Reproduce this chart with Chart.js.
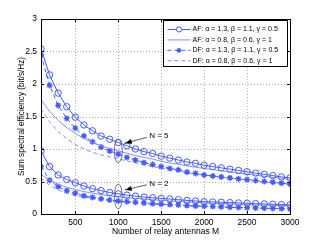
<!DOCTYPE html>
<html>
<head>
<meta charset="utf-8">
<script src="https://cdn.jsdelivr.net/npm/chart.js@4.4.1/dist/chart.umd.min.js"></script>
<style>
    html, body { margin: 0; padding: 0; background: #fff; }
    #wrap { width: 321px; height: 242px; }
</style>
</head>
<body>
<div id="wrap"><canvas id="effChart" width="321" height="242"></canvas></div>
<script>
// number of relay antennas M
const antennas = [100, 200, 300, 400, 500, 600, 700, 800, 900, 1000,
    1100, 1200, 1300, 1400, 1500, 1600, 1700, 1800, 1900, 2000,
    2100, 2200, 2300, 2400, 2500, 2600, 2700, 2800, 2900, 3000];

// N = 5
const af13N5 = [2.54, 2.14, 1.86, 1.65, 1.49, 1.37, 1.28, 1.20, 1.15, 1.10,
    1.05, 1.00, 0.96, 0.93, 0.89, 0.86, 0.83, 0.80, 0.78, 0.75,
    0.73, 0.71, 0.69, 0.67, 0.65, 0.63, 0.61, 0.59, 0.57, 0.555];
const af08N5 = [1.76, 1.58, 1.44, 1.33, 1.24, 1.16, 1.10, 1.05, 1.01, 0.97,
    0.935, 0.90, 0.87, 0.845, 0.81, 0.785, 0.765, 0.74, 0.72, 0.70,
    0.685, 0.665, 0.65, 0.63, 0.615, 0.60, 0.58, 0.565, 0.55, 0.535];
const df13N5 = [2.45, 1.98, 1.67, 1.47, 1.32, 1.20, 1.11, 1.03, 0.97, 0.92,
    0.87, 0.83, 0.79, 0.76, 0.73, 0.70, 0.68, 0.645, 0.625, 0.60,
    0.585, 0.57, 0.555, 0.54, 0.53, 0.515, 0.50, 0.49, 0.475, 0.46];
const df08N5 = [1.62, 1.42, 1.27, 1.16, 1.07, 1.00, 0.95, 0.91, 0.88, 0.85,
    0.815, 0.785, 0.76, 0.73, 0.705, 0.68, 0.66, 0.635, 0.615, 0.595,
    0.58, 0.565, 0.55, 0.535, 0.52, 0.505, 0.49, 0.48, 0.465, 0.45];

// N = 2
const af13N2 = [0.97, 0.73, 0.60, 0.53, 0.48, 0.43, 0.39, 0.36, 0.33, 0.31,
    0.29, 0.275, 0.26, 0.25, 0.24, 0.23, 0.22, 0.21, 0.20, 0.19,
    0.185, 0.18, 0.175, 0.17, 0.165, 0.16, 0.155, 0.15, 0.145, 0.14];
const af08N2 = [0.61, 0.52, 0.46, 0.41, 0.375, 0.345, 0.32, 0.30, 0.28, 0.265,
    0.25, 0.24, 0.23, 0.22, 0.21, 0.20, 0.195, 0.185, 0.18, 0.17,
    0.165, 0.16, 0.155, 0.15, 0.145, 0.14, 0.137, 0.133, 0.13, 0.125];
const df13N2 = [0.73, 0.52, 0.42, 0.36, 0.32, 0.28, 0.255, 0.235, 0.215, 0.20,
    0.19, 0.18, 0.17, 0.16, 0.15, 0.145, 0.14, 0.13, 0.125, 0.12,
    0.115, 0.11, 0.105, 0.10, 0.097, 0.093, 0.09, 0.086, 0.083, 0.08];
const df08N2 = [0.55, 0.44, 0.37, 0.32, 0.285, 0.26, 0.24, 0.22, 0.205, 0.19,
    0.18, 0.17, 0.16, 0.152, 0.145, 0.138, 0.132, 0.126, 0.12, 0.115,
    0.11, 0.105, 0.10, 0.097, 0.093, 0.09, 0.087, 0.084, 0.081, 0.078];

const legendLabels = [
    'AF: \u03b1 = 1.3, \u03b2 = 1.1, \u03b3 = 0.5',
    'AF: \u03b1 = 0.8, \u03b2 = 0.6, \u03b3 = 1',
    'DF: \u03b1 = 1.3, \u03b2 = 1.1, \u03b3 = 0.5',
    'DF: \u03b1 = 0.8, \u03b2 = 0.6, \u03b3 = 1'
];
const xTicks = [500, 1000, 1500, 2000, 2500, 3000];
const yTicks = [0, 0.5, 1, 1.5, 2, 2.5, 3];

const blue = 'rgb(70, 90, 255)';
const lightBlue = 'rgb(125, 145, 255)';
const font = 'Liberation Sans, Arial, sans-serif';

const toPoints = (ys) => antennas.map((m, i) => ({ x: m, y: ys[i] }));

const styles = {
    af13: { borderColor: blue, borderWidth: 1, pointStyle: 'circle', pointRadius: 3.2, pointBorderColor: blue, pointBackgroundColor: 'rgba(0,0,0,0)', pointBorderWidth: 1 },
    af08: { borderColor: lightBlue, borderWidth: 1, pointRadius: 0 },
    df13: { borderColor: blue, borderWidth: 1, borderDash: [4, 3], pointStyle: 'star', pointRadius: 3, pointBorderColor: blue, pointBorderWidth: 1.3 },
    df08: { borderColor: lightBlue, borderWidth: 1, borderDash: [4, 3], pointRadius: 0 }
};

const datasets = [
    Object.assign({ label: legendLabels[0], data: toPoints(af13N5) }, styles.af13),
    Object.assign({ label: legendLabels[1], data: toPoints(af08N5) }, styles.af08),
    Object.assign({ label: legendLabels[2], data: toPoints(df13N5) }, styles.df13),
    Object.assign({ label: legendLabels[3], data: toPoints(df08N5) }, styles.df08),
    Object.assign({ label: legendLabels[0], data: toPoints(af13N2) }, styles.af13),
    Object.assign({ label: legendLabels[1], data: toPoints(af08N2) }, styles.af08),
    Object.assign({ label: legendLabels[2], data: toPoints(df13N2) }, styles.df13),
    Object.assign({ label: legendLabels[3], data: toPoints(df08N2) }, styles.df08)
];

// ellipses + arrows marking the N = 5 and N = 2 groups (data units)
const groupNotes = [
    { text: 'N = 5', cx: 1000, cy: 0.97, ry: 0.18, tail: [1333, 1.18], head: [1080, 1.09], label: [1360, 1.20] },
    { text: 'N = 2', cx: 1000, cy: 0.27, ry: 0.19, tail: [1333, 0.45], head: [1080, 0.37], label: [1360, 0.46] }
];

const extras = {
    id: 'extras',
    beforeDatasetsDraw(chart) {
        // dotted grid
        const { ctx, chartArea: a, scales: { x, y } } = chart;
        ctx.save();
        ctx.strokeStyle = '#b0b0b0';
        ctx.lineWidth = 1;
        ctx.setLineDash([1, 2]);
        ctx.beginPath();
        xTicks.forEach(v => {
            const px = Math.round(x.getPixelForValue(v)) + 0.5;
            ctx.moveTo(px, a.top); ctx.lineTo(px, a.bottom);
        });
        yTicks.forEach(v => {
            const py = Math.round(y.getPixelForValue(v)) + 0.5;
            ctx.moveTo(a.left, py); ctx.lineTo(a.right, py);
        });
        ctx.stroke();
        ctx.restore();
    },
    afterDatasetsDraw(chart) {
        const { ctx, chartArea: a, scales: { x, y } } = chart;
        ctx.save();

        // frame
        ctx.strokeStyle = '#000';
        ctx.lineWidth = 1;
        ctx.strokeRect(Math.round(a.left) + 0.5, Math.round(a.top) + 0.5, Math.round(a.width), Math.round(a.height));

        // inward ticks
        ctx.beginPath();
        xTicks.forEach(v => {
            const px = Math.round(x.getPixelForValue(v)) + 0.5;
            ctx.moveTo(px, a.bottom); ctx.lineTo(px, a.bottom - 3);
            ctx.moveTo(px, a.top); ctx.lineTo(px, a.top + 3);
        });
        yTicks.forEach(v => {
            const py = Math.round(y.getPixelForValue(v)) + 0.5;
            ctx.moveTo(a.left, py); ctx.lineTo(a.left + 3, py);
            ctx.moveTo(a.right, py); ctx.lineTo(a.right - 3, py);
        });
        ctx.stroke();

        // group annotations
        groupNotes.forEach(n => {
            const cx = x.getPixelForValue(n.cx);
            const cy = y.getPixelForValue(n.cy);
            const ry = Math.abs(y.getPixelForValue(n.cy + n.ry) - cy);
            ctx.strokeStyle = '#555';
            ctx.lineWidth = 0.8;
            ctx.beginPath();
            ctx.ellipse(cx, cy, 4, ry, 0, 0, Math.PI * 2);
            ctx.stroke();

            const tx = x.getPixelForValue(n.tail[0]), ty = y.getPixelForValue(n.tail[1]);
            const hx = x.getPixelForValue(n.head[0]), hy = y.getPixelForValue(n.head[1]);
            ctx.strokeStyle = '#333';
            ctx.beginPath();
            ctx.moveTo(tx, ty); ctx.lineTo(hx, hy);
            ctx.stroke();
            const ang = Math.atan2(hy - ty, hx - tx);
            ctx.fillStyle = '#000';
            ctx.beginPath();
            ctx.moveTo(hx, hy);
            ctx.lineTo(hx - 7 * Math.cos(ang - 0.35), hy - 7 * Math.sin(ang - 0.35));
            ctx.lineTo(hx - 7 * Math.cos(ang + 0.35), hy - 7 * Math.sin(ang + 0.35));
            ctx.closePath();
            ctx.fill();

            ctx.font = '8px ' + font;
            ctx.textAlign = 'left';
            ctx.textBaseline = 'middle';
            ctx.fillText(n.text, x.getPixelForValue(n.label[0]), y.getPixelForValue(n.label[1]));
        });

        // legend box
        const bw = 124, bh = 46;
        const bx = Math.round(a.right - bw - 3) + 0.5, by = Math.round(a.top + 1) + 0.5;
        ctx.fillStyle = '#fff';
        ctx.fillRect(bx, by, bw, bh);
        ctx.strokeStyle = '#000';
        ctx.lineWidth = 1;
        ctx.strokeRect(bx, by, bw, bh);
        const keys = ['af13', 'af08', 'df13', 'df08'];
        keys.forEach((k, i) => {
            const s = styles[k];
            const ly = by + 9 + i * 10.4;
            ctx.strokeStyle = s.borderColor;
            ctx.lineWidth = 1;
            ctx.setLineDash(s.borderDash || []);
            ctx.beginPath();
            ctx.moveTo(bx + 4, ly); ctx.lineTo(bx + 27, ly);
            ctx.stroke();
            ctx.setLineDash([]);
            if (s.pointRadius) {
                ctx.strokeStyle = s.pointBorderColor;
                ctx.fillStyle = '#fff';
                ctx.lineWidth = s.pointBorderWidth;
                Chart.helpers.drawPoint(ctx, {
                    pointStyle: s.pointStyle, radius: s.pointRadius * 0.8,
                    borderWidth: s.pointBorderWidth, rotation: 0
                }, bx + 15.5, ly);
            }
            ctx.fillStyle = '#000';
            ctx.font = '7px ' + font;
            ctx.textAlign = 'left';
            ctx.textBaseline = 'middle';
            ctx.fillText(legendLabels[i], bx + 29, ly);
        });
        ctx.restore();
    }
};

const ctxEff = document.getElementById('effChart').getContext('2d');
window.effInstance = new Chart(ctxEff, {
    type: 'line',
    data: { datasets: datasets },
    options: {
        responsive: false,
        animation: false,
        layout: { padding: { left: 0, top: 19, right: 31, bottom: 0 } },
        plugins: { legend: { display: false }, tooltip: { enabled: false } },
        scales: {
            x: {
                type: 'linear',
                min: 100,
                max: 3000,
                afterBuildTicks: (s) => { s.ticks = xTicks.map(v => ({ value: v })); },
                afterFit: (s) => { s.height = 28; },
                grid: { display: false, drawTicks: false },
                border: { display: false },
                ticks: { color: '#000', font: { family: font, size: 8.5 }, padding: 4, maxRotation: 0, callback: (v) => String(v) },
                title: { display: true, text: 'Number of relay antennas M', color: '#000', font: { family: font, size: 8.5 }, padding: { top: 0, bottom: 5 } }
            },
            y: {
                min: 0,
                max: 3,
                afterBuildTicks: (s) => { s.ticks = yTicks.map(v => ({ value: v })); },
                afterFit: (s) => { s.width = 41; },
                grid: { display: false, drawTicks: false },
                border: { display: false },
                ticks: { color: '#000', font: { family: font, size: 8.5 }, padding: 4, callback: (v) => String(v) },
                title: { display: true, text: 'Sum spectral efficiency (bit/s/Hz)', color: '#000', font: { family: font, size: 8.2 }, padding: { top: 17, bottom: 0 } }
            }
        }
    },
    plugins: [extras]
});
</script>
</body>
</html>
